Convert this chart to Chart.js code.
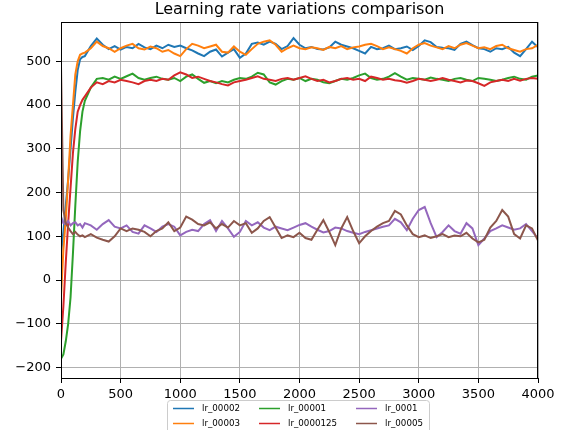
<!DOCTYPE html>
<html>
<head>
<meta charset="utf-8">
<script src="https://cdn.jsdelivr.net/npm/chart.js@4"></script>
<style>
  body { margin: 0; background: #fff; }
  canvas { display: block; }
</style>
</head>
<body>
<canvas id="lrChart" width="564" height="430"></canvas>
<script>
// Kroki treningu (oś X)
const steps = [
  0, 20, 40, 60, 80, 100, 120, 140, 160, 180, 200,
  250, 300, 350, 400, 450, 500,
  550, 600, 650, 700, 750, 800, 850, 900, 950, 1000,
  1050, 1100, 1150, 1200, 1250, 1300, 1350, 1400, 1450, 1500,
  1550, 1600, 1650, 1700, 1750, 1800, 1850, 1900, 1950, 2000,
  2050, 2100, 2150, 2200, 2250, 2300, 2350, 2400, 2450, 2500,
  2550, 2600, 2650, 2700, 2750, 2800, 2850, 2900, 2950, 3000,
  3050, 3100, 3150, 3200, 3250, 3300, 3350, 3400, 3450, 3500,
  3550, 3600, 3650, 3700, 3750, 3800, 3850, 3900, 3950, 4000,
];

// Wartości
const lr_00002 = [
  60, 110, 170, 230, 300, 370, 430, 480, 505, 510, 512,
  535, 552, 538, 528, 535, 527,
  533, 530, 540, 532, 528, 536, 530, 538, 533, 536,
  530, 525, 518, 512, 522, 527, 511, 520, 528, 508,
  518, 540, 543, 538, 545, 540, 528, 535, 553, 538,
  530, 533, 528, 527, 532, 545, 538, 534, 530, 524,
  518, 533, 528, 530, 536, 528, 530, 534, 526, 535,
  548, 544, 533, 531, 530, 526, 540, 545, 537, 530,
  528, 522, 530, 528, 533, 520, 512, 528, 545, 532,
];
const lr_00003 = [
  -40, 70, 140, 230, 330, 400, 470, 500, 515, 518, 520,
  530, 545, 535, 530, 522, 530,
  536, 540, 530, 527, 534, 530, 522, 526, 518, 512,
  528, 540, 536, 530, 534, 538, 522, 520, 534, 522,
  515, 528, 540, 545, 548, 538, 522, 530, 536, 530,
  528, 532, 530, 526, 533, 530, 535, 528, 532, 534,
  538, 540, 535, 528, 532, 528, 524, 518, 530, 538,
  542, 536, 532, 528, 535, 530, 538, 542, 536, 530,
  532, 528, 535, 538, 530, 526, 522, 528, 530, 538,
];
const lr_00001 = [
  -180, -170, -140, -100, -40, 60, 170, 270, 340, 385, 410,
  440, 460, 462, 458, 465, 460,
  466, 472, 462, 458, 462, 465, 460, 458, 462, 455,
  465, 470, 460, 451, 455, 450, 455, 452, 458, 462,
  460, 465, 474, 470, 452, 447, 455, 460, 458, 462,
  455, 460, 458, 452, 450, 455, 460, 458, 462, 468,
  472, 462, 458, 460, 465, 473, 465, 458, 462, 460,
  458, 463, 460, 458, 455, 460, 462, 458, 455, 462,
  460, 458, 455, 458, 462, 465, 460, 458, 465, 468,
];
const lr_0000125 = [
  -140, -60, 40, 130, 210, 290, 345, 385, 400, 412, 420,
  440, 452, 448, 455, 452, 458,
  455, 452, 448, 455, 458, 455, 460, 458, 468, 475,
  470, 462, 465, 460, 455, 452, 448, 445, 452, 455,
  458, 462, 466, 460, 458, 455, 460, 462, 458, 462,
  466, 460, 455, 458, 452, 455, 460, 462, 458, 460,
  455, 465, 462, 458, 460, 457, 455, 451, 455, 460,
  458, 455, 458, 462, 458, 455, 452, 456, 455, 450,
  444, 452, 455, 458, 455, 460, 456, 460, 462, 460,
];
const lr_0001 = [
  145, 130, 128, 135, 125, 130, 132, 125, 128, 120, 130,
  125, 115, 128, 137, 122, 118,
  125, 110, 106, 125, 118, 110, 122, 128, 122, 102,
  110, 115, 112, 128, 137, 112, 135, 118, 99, 110,
  135, 125, 132, 120, 114, 122, 118, 114, 120, 126,
  130, 122, 115, 109, 112, 120, 118, 112, 108, 105,
  110, 114, 118, 122, 125, 140, 132, 114, 140, 160,
  167, 130, 98, 110, 125, 112, 106, 130, 118, 80,
  95, 112, 118, 125, 120, 115, 118, 128, 112, 95,
];
const lr_00005 = [
  490, 160, 130, 120, 112, 105, 110, 104, 100, 102, 98,
  105, 97, 92, 88, 100, 118,
  112, 118, 115, 110, 100, 112, 118, 132, 112, 120,
  145, 138, 128, 125, 132, 118, 128, 120, 135, 125,
  130, 108, 118, 135, 144, 120, 96, 102, 98, 108,
  96, 92, 115, 137, 110, 80, 118, 144, 112, 84,
  100, 112, 122, 130, 135, 158, 150, 125, 105, 98,
  102, 96, 100, 105, 98, 102, 100, 108, 95, 86,
  92, 120, 135, 160, 145, 105, 95, 125, 118, 90,
];

const seriesNames = ["lr_00002", "lr_00003", "lr_00001", "lr_0000125", "lr_0001", "lr_00005"];
const seriesValues = [lr_00002, lr_00003, lr_00001, lr_0000125, lr_0001, lr_00005];
const colors = ["#1f77b4", "#ff7f0e", "#2ca02c", "#d62728", "#9467bd", "#8c564b"];

const xTicks = [0, 500, 1000, 1500, 2000, 2500, 3000, 3500, 4000];
const yTicks = [-200, -100, 0, 100, 200, 300, 400, 500];

const FONT = "'DejaVu Sans', sans-serif";

// minus jak w matplotlib, bez separatorów tysięcy
const fmtTick = (v) => (v < 0 ? "\u2212" + Math.abs(v) : String(v));

// tytuł, ramka osi i legenda w stylu matplotlib
const mplDecor = {
  id: "mplDecor",
  afterDraw(chart) {
    const { ctx, chartArea: a } = chart;
    ctx.save();
    ctx.strokeStyle = "#000";
    ctx.lineWidth = 1;
    ctx.strokeRect(Math.round(a.left) + 0.5, Math.round(a.top) + 0.5,
      Math.round(a.right - a.left) - 1, Math.round(a.bottom - a.top));

    ctx.fillStyle = "#000";
    ctx.font = "16px " + FONT;
    ctx.textAlign = "center";
    ctx.textBaseline = "alphabetic";
    ctx.fillText("Learning rate variations comparison", (a.left + a.right) / 2, 14);

    // legenda: 3 kolumny po 2 wiersze
    ctx.beginPath();
    ctx.roundRect(167.5, 400.5, 262, 40, 3);
    ctx.fillStyle = "rgba(255,255,255,0.8)";
    ctx.fill();
    ctx.strokeStyle = "#cccccc";
    ctx.stroke();

    const colX = [173, 259, 356];
    const rowY = [408.5, 423.5];
    ctx.font = "8.7px " + FONT;
    ctx.textAlign = "left";
    ctx.textBaseline = "middle";
    seriesNames.forEach((name, i) => {
      const col = Math.floor(i / 2), row = i % 2;
      const x = colX[col], y = rowY[row];
      ctx.strokeStyle = colors[i];
      ctx.lineWidth = 1.5;
      ctx.beginPath();
      ctx.moveTo(x, y);
      ctx.lineTo(x + 21, y);
      ctx.stroke();
      ctx.fillStyle = "#000";
      ctx.fillText(name, x + 29, y);
    });
    ctx.restore();
  },
};

const ctx = document.getElementById("lrChart").getContext("2d");
const lrChart = new Chart(ctx, {
  type: "line",
  data: {
    datasets: seriesNames.map((name, i) => ({
      label: name,
      data: steps.map((s, j) => ({ x: s, y: seriesValues[i][j] })),
      borderColor: colors[i],
      backgroundColor: colors[i],
      borderWidth: 2,
      pointRadius: 0,
      tension: 0,
      order: seriesNames.length - i, // ostatnia seria na wierzchu jak w matplotlib
    })),
  },
  options: {
    responsive: false,
    animation: false,
    devicePixelRatio: 1,
    layout: { padding: { left: 0, top: 22, right: 26, bottom: 0 } },
    plugins: {
      legend: { display: false },
      title: { display: false },
      tooltip: { enabled: false },
    },
    scales: {
      x: {
        type: "linear",
        min: 0,
        max: 4000,
        afterBuildTicks: (scale) => { scale.ticks = xTicks.map((v) => ({ value: v })); },
        afterFit: (scale) => { scale.height = 52; },
        grid: { color: "#b0b0b0", lineWidth: 1, tickLength: 5, tickColor: "#000" },
        border: { color: "#000", width: 1 },
        ticks: { color: "#000", font: { family: FONT, size: 13 }, padding: 4, maxRotation: 0, callback: fmtTick },
      },
      y: {
        type: "linear",
        min: -224,
        max: 590,
        afterBuildTicks: (scale) => { scale.ticks = yTicks.map((v) => ({ value: v })); },
        afterFit: (scale) => { scale.width = 61; },
        grid: { color: "#b0b0b0", lineWidth: 1, tickLength: 5, tickColor: "#000" },
        border: { color: "#000", width: 1 },
        ticks: { color: "#000", font: { family: FONT, size: 13 }, padding: 5, callback: fmtTick },
      },
    },
  },
  plugins: [mplDecor],
});
</script>
</body>
</html>
